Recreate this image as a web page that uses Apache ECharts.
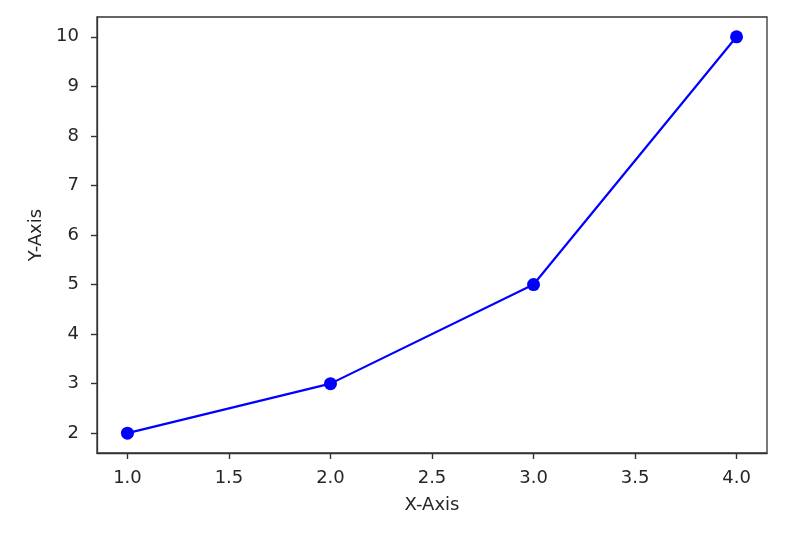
<!DOCTYPE html>
<html>
<head>
<meta charset="utf-8">
<script src="https://cdn.jsdelivr.net/npm/echarts@6/dist/echarts.min.js"></script>
<style>html,body{margin:0;padding:0;background:#fff}#c{width:788px;height:538px}</style>
</head>
<body>
<div id="c"></div>
<script>
const xValues = [1, 2, 3, 4];
const yValues = [2, 3, 5, 10];
const xTicks = [1.0, 1.5, 2.0, 2.5, 3.0, 3.5, 4.0];
const yTicks = [2, 3, 4, 5, 6, 7, 8, 9, 10];

const chart = echarts.init(document.getElementById('c'));
const font = 'DejaVu Sans';
const txt = '#262626';
chart.setOption({
  animation: false,
  grid: { left: 97, top: 17, width: 670, height: 436, show: true, borderColor: '#333', borderWidth: 1.3, backgroundColor: 'transparent' },
  xAxis: {
    type: 'value', min: 0.85, max: 4.15,
    name: 'X-Axis', nameLocation: 'middle', nameGap: 43,
    nameTextStyle: { fontFamily: font, fontSize: 18, color: txt },
    axisLine: { show: true, lineStyle: { color: '#333', width: 1.3 } },
    axisTick: { show: true, inside: false, customValues: xTicks, length: 6, lineStyle: { color: '#333', width: 1.4 } },
    axisLabel: { customValues: xTicks, formatter: v => v.toFixed(1), fontFamily: font, fontSize: 18, color: txt, margin: 16 },
    splitLine: { show: false }
  },
  yAxis: {
    type: 'value', min: 1.6, max: 10.4,
    name: 'Y-Axis', nameLocation: 'middle', nameGap: 52,
    nameTextStyle: { fontFamily: font, fontSize: 18, color: txt },
    axisLine: { show: true, lineStyle: { color: '#333', width: 1.3 } },
    axisTick: { show: true, inside: false, customValues: yTicks, length: 6, lineStyle: { color: '#333', width: 1.4 } },
    axisLabel: { customValues: yTicks, fontFamily: font, fontSize: 18, color: txt, margin: 18 },
    splitLine: { show: false }
  },
  series: [{
    type: 'line',
    data: xValues.map((x, i) => [x, yValues[i]]),
    symbol: 'circle', symbolSize: 13,
    itemStyle: { color: '#0000ff' },
    lineStyle: { color: '#0000ff', width: 2.2 }
  }]
});
</script>
</body>
</html>
